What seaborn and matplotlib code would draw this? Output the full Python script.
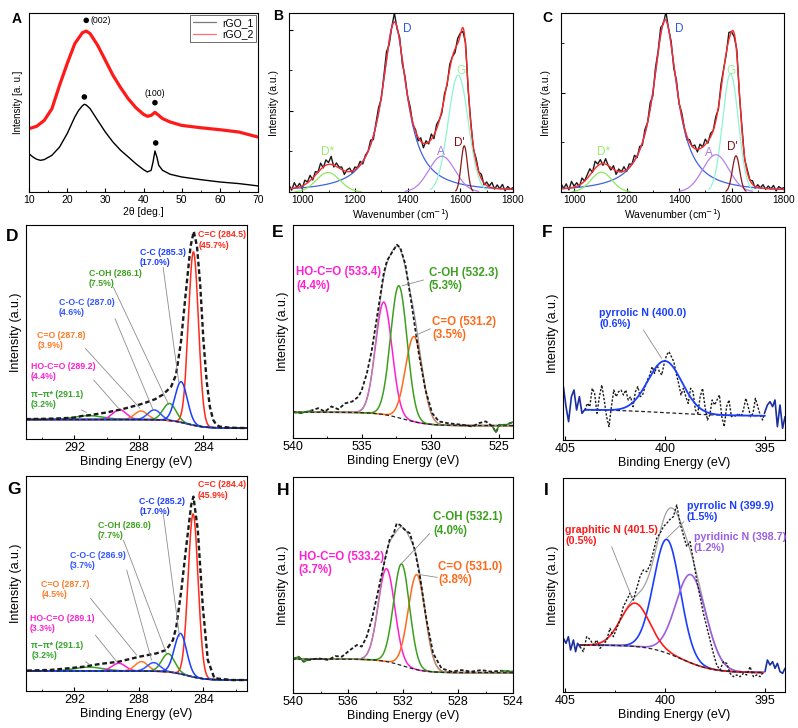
import numpy as np
import matplotlib
matplotlib.use("Agg")
import matplotlib.pyplot as plt
from matplotlib.ticker import MultipleLocator, NullLocator
from matplotlib.lines import Line2D
import seaborn as sns

# ===================== DATA =====================
# ---- A : XRD ----
xrd_angle_1 = [10, 11, 12, 13, 14, 16, 18, 20, 22, 23, 24, 24.5, 25, 26, 28, 30, 32, 34, 36, 38,
               40, 41, 42, 42.5, 43, 43.5, 44, 45, 47, 50, 55, 60, 65, 70]
xrd_rgo1 = [0.214, 0.196, 0.183, 0.177, 0.181, 0.205, 0.251, 0.326, 0.419, 0.456, 0.482, 0.490,
            0.486, 0.466, 0.400, 0.335, 0.279, 0.233, 0.196, 0.158, 0.125, 0.112, 0.121, 0.168,
            0.229, 0.196, 0.149, 0.121, 0.099, 0.084, 0.069, 0.056, 0.047, 0.034]
xrd_angle_2 = [10, 12, 14, 16, 18, 20, 22, 24, 25, 26, 28, 30, 32, 34, 36, 38, 40, 41, 42, 43,
               44, 45, 47, 50, 55, 60, 65, 70]
xrd_rgo2 = [0.354, 0.367, 0.400, 0.465, 0.596, 0.717, 0.829, 0.890, 0.899, 0.885, 0.819, 0.736,
            0.652, 0.583, 0.521, 0.471, 0.434, 0.423, 0.428, 0.445, 0.428, 0.410, 0.391, 0.372,
            0.359, 0.348, 0.335, 0.307]
xrd_dot_x = [25.0, 24.5, 43.0, 43.2]
xrd_dot_y = [0.959, 0.531, 0.499, 0.274]
xrd_hkl = ["(002)", "(100)"]
xrd_series = ["rGO_1", "rGO_2"]

# ---- B, C : Raman ----
raman_names = ["D", "G", "A", "D'", "D*"]
raman_shape = ["lorentz", "gauss", "gauss", "gauss", "gauss"]
B_center = [1350, 1592, 1530, 1615, 1098]
B_height = [0.95, 0.653, 0.200, 0.258, 0.109]
B_width = [56, 38, 50, 12, 45]
B_label_x = [1399, 1601, 1525, 1596, 1098]
B_label_y = [0.913, 0.675, 0.226, 0.276, 0.226]
B_resid = [0.02, -0.01, 0.03, 0.0, 0.02, -0.015, 0.025, 0.005, 0.03, -0.01,
           0.02, 0.0, 0.035, -0.005, 0.03, 0.01, 0.045, -0.01, 0.02, 0.005,
           0.015, -0.02, 0.01, 0.02, -0.01, 0.015, 0.0, 0.02, -0.015, 0.01,
           0.0, 0.025, -0.02, 0.015, 0.03, -0.01, 0.02, 0.045, -0.02, 0.0,
           0.05, -0.01, 0.02, -0.025, 0.015, 0.0, 0.02, -0.015, 0.01, -0.02,
           0.02, -0.025, 0.015, -0.01, 0.03, -0.02, 0.025, 0.005, -0.015, 0.02,
           -0.01, 0.025, 0.0, -0.02, 0.03, 0.01, -0.02, 0.02, -0.01, 0.015,
           -0.015, 0.02, 0.0, 0.025, -0.01, 0.02, 0.005, 0.03, -0.005, 0.02,
           0.0, 0.025, -0.01, 0.015, 0.0, 0.01]
C_center = [1347, 1596, 1540, 1617, 1104]
C_height = [0.963, 0.66, 0.208, 0.202, 0.111]
C_width = [55, 30, 50, 14, 40]
C_label_x = [1400, 1598, 1512, 1604, 1112]
C_label_y = [0.913, 0.677, 0.217, 0.254, 0.221]
C_resid = [0.03, 0.0, 0.025, -0.01, 0.035, 0.005, 0.02, -0.01, 0.03, 0.0,
           0.02, 0.035, -0.005, 0.04, 0.01, 0.025, -0.01, 0.03, 0.0, -0.015,
           0.02, -0.02, 0.015, 0.0, 0.025, -0.01, 0.02, 0.0, 0.03, -0.01,
           0.02, -0.015, 0.025, 0.0, 0.035, -0.02, 0.03, 0.01, 0.04, -0.01,
           0.045, 0.0, 0.02, -0.02, 0.025, -0.01, 0.02, 0.0, -0.02, 0.015,
           0.0, 0.02, -0.015, 0.025, 0.0, 0.03, -0.01, 0.02, 0.0, 0.025,
           -0.01, 0.03, 0.005, -0.01, 0.04, 0.0, -0.02, 0.025, -0.01, 0.02,
           -0.01, 0.015, 0.0, 0.02, -0.01, 0.015, 0.0, 0.02, -0.005, 0.015,
           0.0, 0.02, -0.01, 0.015, 0.005, 0.01]

# ---- D, G : C1s ----
C1s_colors = ["#ff2a1a", "#1a3dff", "#3ca01e", "#2f55ff", "#ff7a26", "#ff1fd2", "#33a32a"]
D_labels = ["C=C (284.5)", "C-C (285.3)", "C-OH (286.1)", "C-O-C (287.0)", "C=O (287.8)",
            "HO-C=O (289.2)", "π−π* (291.1)"]
D_pct = ["45.7%", "17.0%", "7.5%", "4.6%", "3.9%", "4.4%", "3.2%"]
D_center = [284.62, 285.38, 286.1, 287.05, 287.87, 289.2, 291.1]
D_height = [0.81, 0.19, 0.08, 0.046, 0.04, 0.046, 0.018]
D_sigma = [0.31, 0.38, 0.40, 0.40, 0.40, 0.42, 0.9]
D_bg = [0.051, 0.091, 285.0, 0.55]
D_env_be = [295.0, 294.0, 293.0, 292.0, 291.5, 291.0, 290.5, 290.0, 289.5, 289.0, 288.5, 288.0,
            287.5, 287.0, 286.5, 286.0, 285.7, 285.4, 285.1, 284.8, 284.6, 284.4, 284.2, 284.0,
            283.8, 283.6, 283.4, 283.2, 283.0, 282.5, 282.0, 281.3]
D_env = [0.093, 0.094, 0.096, 0.100, 0.108, 0.112, 0.118, 0.124, 0.132, 0.140, 0.150, 0.160,
         0.172, 0.186, 0.208, 0.245, 0.300, 0.450, 0.680, 0.900, 0.970, 0.900, 0.720, 0.460,
         0.270, 0.150, 0.090, 0.066, 0.058, 0.054, 0.052, 0.051]
D_text_x = [284.31, 287.94, 291.12, 292.96, 294.3, 294.7, 294.7]
D_text_y = [0.93, 0.848, 0.748, 0.614, 0.46, 0.316, 0.186]
D_leader = [(286.5, 0.802, 285.52, 0.26), (289.58, 0.709, 286.15, 0.16),
            (289.48, 0.562, 287.12, 0.136), (291.32, 0.423, 287.94, 0.144),
            (290.81, 0.276, 289.27, 0.144), (291.57, 0.136, 291.26, 0.124)]

G_labels = ["C=C (284.4)", "C-C (285.2)", "C-OH (286.0)", "C-O-C (286.9)", "C=O (287.7)",
            "HO-C=O (289.1)", "π−π* (291.1)"]
G_pct = ["45.9%", "17.0%", "7.7%", "3.7%", "4.5%", "3.3%", "3.2%"]
G_center = [284.64, 285.42, 286.18, 287.08, 287.84, 289.25, 291.1]
G_height = [0.758, 0.188, 0.085, 0.04, 0.044, 0.036, 0.018]
G_sigma = [0.31, 0.38, 0.40, 0.40, 0.40, 0.42, 0.9]
G_bg = [0.051, 0.093, 285.0, 0.55]
G_env_be = [294.93, 293.48, 292.45, 291.43, 290.4, 289.27, 287.94, 286.91, 286.3, 285.89, 285.68,
            285.37, 285.07, 284.76, 284.62, 284.35, 284.04, 283.73, 283.32, 282.2, 281.33]
G_env = [0.095, 0.098, 0.105, 0.113, 0.126, 0.136, 0.160, 0.175, 0.191, 0.237, 0.300, 0.470,
         0.670, 0.865, 0.904, 0.749, 0.392, 0.144, 0.059, 0.051, 0.051]
G_text_x = [284.35, 287.98, 290.56, 292.29, 294.05, 294.75, 294.67]
G_text_y = [0.935, 0.857, 0.746, 0.606, 0.474, 0.315, 0.188]
G_leader = [(286.5, 0.83, 285.48, 0.253), (288.96, 0.702, 286.3, 0.175),
            (288.76, 0.563, 287.22, 0.144), (291.0, 0.431, 288.14, 0.167),
            (290.7, 0.26, 289.37, 0.136), (291.3, 0.136, 291.1, 0.125)]

# ---- E, H : O1s ----
O1s_colors = ["#ff1fd2", "#3ca01e", "#ff6a1a"]
E_labels = ["HO-C=O (533.4)", "C-OH (532.3)", "C=O (531.2)"]
E_pct = ["4.4%", "5.3%", "3.5%"]
E_center = [533.4, 532.3, 531.2]
E_height = [0.528, 0.62, 0.40]
E_sigma = [0.6, 0.6, 0.62]
E_bg = [0.058, 0.121, 532.0, 0.9]
E_env_be = [540.0, 539.4, 538.66, 538.17, 537.68, 537.2, 536.7, 536.2, 535.7, 535.24, 535.0,
            534.63, 534.27, 533.78, 533.41, 533.17, 532.8, 532.44, 532.2, 531.83, 531.34, 530.85,
            530.37, 529.88, 529.39, 528.78, 528.41, 527.68, 526.95, 526.46, 525.98, 525.49,
            525.24, 525.0, 524.5, 523.9]
E_env = [0.121, 0.117, 0.129, 0.140, 0.124, 0.148, 0.135, 0.163, 0.171, 0.194, 0.225, 0.303,
         0.412, 0.614, 0.770, 0.832, 0.871, 0.907, 0.894, 0.816, 0.614, 0.397, 0.226, 0.117,
         0.078, 0.070, 0.067, 0.062, 0.054, 0.070, 0.078, 0.054, 0.026, 0.062, 0.062, 0.078]
E_text_x = [539.76, 530.12, 529.88]
E_text_y = [0.746, 0.743, 0.513]
E_leader = [(530.49, 0.742, 532.07, 0.715), (530.0, 0.513, 531.1, 0.482)]

H_labels = ["HO-C=O (533.2)", "C-OH (532.1)", "C=O (531.0)"]
H_pct = ["3.7%", "4.0%", "3.8%"]
H_center = [533.2, 532.1, 531.0]
H_height = [0.43, 0.47, 0.44]
H_sigma = [0.6, 0.58, 0.62]
H_bg = [0.094, 0.157, 532.0, 0.8]
H_env_be = [540.0, 539.6, 539.23, 538.86, 538.14, 537.42, 536.93, 536.45, 535.85, 535.36, 535.0,
            534.64, 534.28, 533.79, 533.43, 532.95, 532.71, 532.46, 532.22, 531.86, 531.5, 531.14,
            530.77, 530.29, 529.81, 529.2, 528.48, 527.75, 527.03, 526.3, 525.58, 524.85, 524.0]
H_env = [0.157, 0.168, 0.145, 0.153, 0.160, 0.153, 0.171, 0.168, 0.199, 0.222, 0.215, 0.261,
         0.338, 0.477, 0.585, 0.716, 0.731, 0.785, 0.778, 0.755, 0.739, 0.662, 0.539, 0.338,
         0.184, 0.114, 0.099, 0.106, 0.099, 0.106, 0.099, 0.103, 0.099]
H_text_x = [539.59, 529.8, 529.44]
H_text_y = [0.60, 0.782, 0.552]
H_leader = [(530.05, 0.739, 532.1, 0.6), (529.5, 0.535, 530.85, 0.549)]

# ---- F, I : N1s (counts, a.u.) ----
F_labels = ["pyrrolic N (400.0)"]
F_pct = ["0.6%"]
F_center = [400.0]
F_height = [155]
F_sigma = [0.85]
F_bg = [72, 92, 400.0, 1.5]
F_counts = [90, 110, 100, 155, 140, 80, 130, 165, 120, 70, 40, 100, 150, 130, 145, 150, 135, 150,
            120, 130, 100, 145, 160, 130, 135, 160, 180, 195, 220, 200, 225, 205, 195, 230, 255,
            265, 250, 235, 200, 170, 135, 155, 130, 110, 155, 145, 90, 80, 130, 155, 100, 60, 75,
            120, 105, 120, 135, 70, 40, 100, 120, 70, 75, 70, 80, 70, 90, 125, 100, 70, 80, 125,
            100, 75, 60, 85]
F_edge_l_be = [405.08, 404.95, 404.82, 404.68, 404.55, 404.42, 404.28, 404.15, 404.0]
F_edge_l = [160, 100, 55, 130, 150, 90, 130, 80, 92]
F_edge_r_be = [395.0, 394.88, 394.75, 394.62, 394.5, 394.38, 394.25, 394.12, 394.0]
F_edge_r = [85, 105, 115, 100, 120, 40, 105, 35, 70]
F_text_x = [403.28]
F_text_y = [365]
F_leader = [(401.08, 330, 400.17, 245)]

N1s_colors = ["#ff1a1a", "#1a3dff", "#9b5fe0"]
I_labels = ["graphitic N (401.5)", "pyrrolic N (399.9)", "pyridinic N (398.7)"]
I_pct = ["0.5%", "1.5%", "1.2%"]
I_center = [401.5, 399.9, 398.7]
I_height = [130, 341, 265]
I_sigma = [0.72, 0.66, 0.75]
I_bg = [58, 141, 399.2, 0.8]
I_counts = [136, 121, 166, 158, 141, 156, 131, 141, 156, 191, 166, 191, 216, 256, 276, 296, 276,
            311, 346, 366, 361, 381, 421, 461, 476, 496, 506, 518, 526, 561, 506, 471, 436, 451,
            396, 336, 286, 236, 196, 156, 116, 81, 66, 91, 86, 56, 46, 51, 46, 56, 51, 76, 46, 51,
            46, 61]
I_edge_l_be = [405.08, 404.95, 404.83, 404.72, 404.58, 404.47, 404.37, 404.25]
I_edge_l = [161, 146, 166, 126, 156, 121, 146, 136]
I_edge_r_be = [395.0, 394.88, 394.75, 394.62, 394.5, 394.38, 394.25, 394.12, 394.0]
I_edge_r = [61, 96, 81, 91, 71, 86, 61, 56, 71]
I_text_x = [405.0, 398.92, 398.55]
I_text_y = [470, 541, 449]
I_leader = [(402.67, 436, 401.67, 286), (399.05, 511, 399.92, 461)]

# ===================== STYLE =====================
sns.set_theme(style="ticks")
plt.rcParams["font.family"] = ["Liberation Sans", "DejaVu Sans"]
plt.rcParams["axes.edgecolor"] = "black"
plt.rcParams["axes.linewidth"] = 0.8
plt.rcParams["xtick.color"] = "black"
plt.rcParams["ytick.color"] = "black"
plt.rcParams["axes.labelcolor"] = "black"
plt.rcParams["text.color"] = "black"

W, H = 798, 728
fig = plt.figure(figsize=(W / 100, H / 100), dpi=100)
fig.patch.set_facecolor("white")


def add_ax(l, t, r, b):
    return fig.add_axes([l / W, 1 - b / H, (r - l) / W, (b - t) / H])


def line(ax, x, y, **kw):
    sns.lineplot(x=np.asarray(x, float), y=np.asarray(y, float), ax=ax, sort=False,
                 estimator=None, errorbar=None, legend=False, **kw)


def style(ax, xlim, ylim, xmaj, xmin, tick_fs, label_fs, xlabel, ylabel,
          ymaj=None, ymin=None, xlabelpad=1.5, ylabelpad=3):
    ax.set_xlim(*xlim)
    ax.set_ylim(*ylim)
    ax.xaxis.set_major_locator(MultipleLocator(xmaj))
    ax.xaxis.set_minor_locator(MultipleLocator(xmin))
    if ymaj is None:
        ax.yaxis.set_major_locator(NullLocator())
        ax.yaxis.set_minor_locator(NullLocator())
    else:
        ax.yaxis.set_major_locator(MultipleLocator(ymaj))
        ax.yaxis.set_minor_locator(MultipleLocator(ymin))
        ax.set_yticklabels([])
    ax.tick_params(which="both", direction="in", top=False, right=False, color="black")
    ax.tick_params(which="major", length=3, width=0.8, labelsize=tick_fs, pad=2.5)
    ax.tick_params(which="minor", length=1.8, width=0.6)
    ax.set_xlabel(xlabel, fontsize=label_fs, labelpad=xlabelpad)
    ax.set_ylabel(ylabel, fontsize=label_fs, labelpad=ylabelpad)
    for s in ax.spines.values():
        s.set_visible(True)
        s.set_linewidth(0.8)
        s.set_color("black")
    ax.set_facecolor("white")


def shirley(x, p):
    low, high, c, w = p
    return low + (high - low) / (1.0 + np.exp(-(x - c) / w))


def gauss(x, h, c, s):
    return h * np.exp(-(x - c) ** 2 / (2 * s ** 2))


def leader(ax, seg):
    x0, y0, x1, y1 = seg
    ax.annotate("", xy=(x1, y1), xytext=(x0, y0),
                arrowprops=dict(arrowstyle="-", color="#8c8c8c", lw=0.6,
                                shrinkA=0, shrinkB=0))


# ===================== A: XRD =====================
axA = add_ax(29, 13, 258, 192)
line(axA, xrd_angle_2, xrd_rgo2, color="#ff1a1a", linewidth=2.3)
line(axA, xrd_angle_1, xrd_rgo1, color="black", linewidth=1.0)
sns.scatterplot(x=xrd_dot_x, y=xrd_dot_y, ax=axA, color="black", s=16, edgecolor="none",
                legend=False, zorder=5)
axA.text(26.2, 0.959, xrd_hkl[0], fontsize=6.3, va="center", ha="left")
axA.text(43.0, 0.525, xrd_hkl[1], fontsize=6.3, va="bottom", ha="center")
style(axA, (10, 70), (0, 1), 10, 5, 7.5, 7.5, "2θ [deg.]", "Intensity [a. u.]",
      xlabelpad=1.0, ylabelpad=4)
axA.yaxis.label.set_size(7)
handles = [Line2D([0], [0], color="#7a7a7a", lw=0.9), Line2D([0], [0], color="#ff7070", lw=0.9)]
leg = axA.legend(handles, xrd_series, loc="upper right", fontsize=7.5, frameon=True,
                 fancybox=False, edgecolor="#555555", framealpha=1, borderpad=0.3,
                 labelspacing=0.15, handletextpad=0.6, handlelength=2.2, borderaxespad=0.15)
leg.get_frame().set_linewidth(0.6)


# ===================== B, C: Raman =====================
raman_line_colors = ["#3f63e0", "#8ef5d0", "#b582ea", "#8b1a1a", "#8fe860"]
raman_text_colors = ["#2f55e6", "#9cf29c", "#a777e6", "#7d0f0f", "#98ec70"]


def raman_comp(x, shape, c, h, w):
    if shape == "lorentz":
        return h / (1.0 + ((x - c) / w) ** 2)
    return h * np.exp(-(x - c) ** 2 / (2 * w ** 2))


def raman_panel(ax, centers, heights, widths, resid, lab_x, lab_y, ymaj):
    xf = np.linspace(950, 1800, 700)
    grid = np.arange(950, 1801, 10)
    fit_f = sum(raman_comp(xf, s, c, h, w)
                for s, c, h, w in zip(raman_shape, centers, heights, widths))
    fit_g = sum(raman_comp(grid, s, c, h, w)
                for s, c, h, w in zip(raman_shape, centers, heights, widths))
    line(ax, grid, fit_g + np.asarray(resid), color="#1a1a1a", linewidth=1.0)
    for s, c, h, w, col in zip(raman_shape, centers, heights, widths, raman_line_colors):
        if s == "lorentz":
            xx = xf
        else:
            xx = xf[(xf > c - 2.8 * w) & (xf < c + 2.8 * w)]
        line(ax, xx, raman_comp(xx, s, c, h, w), color=col, linewidth=0.9)
    line(ax, xf, fit_f, color="#ff2b2b", linewidth=1.0)
    for name, tx, ty, tc in zip(raman_names, lab_x, lab_y, raman_text_colors):
        ax.text(tx, ty, name, color=tc, fontsize=8.5, ha="center", va="center")
    style(ax, (950, 1800), (0, 1), 200, 100, 7.3, 7.5, r"Wavenumber (cm$^{-1}$)",
          "Intensity (a.u.)", ymaj=ymaj, ymin=ymaj / 2, xlabelpad=1.0, ylabelpad=4)


axB = add_ax(289, 13, 513, 192)
raman_panel(axB, B_center, B_height, B_width, B_resid, B_label_x, B_label_y, 0.453)
axC = add_ax(561, 13, 784, 192)
raman_panel(axC, C_center, C_height, C_width, C_resid, C_label_x, C_label_y, 0.555)


# ===================== XPS helpers =====================
def xps_components(ax, xr, bgp, centers, heights, sigmas, colors, order, lw=1.1):
    xf = np.linspace(xr[0], xr[1], 800)
    base = shirley(xf, bgp)
    for i in order:
        line(ax, xf, base + gauss(xf, heights[i], centers[i], sigmas[i]),
             color=colors[i], linewidth=lw)
    return xf, base


def xps_labels(ax, labels, pcts, tx, ty, colors, fs, leaders):
    for seg in leaders:
        leader(ax, seg)
    for lab, pct, x, y, c in zip(labels, pcts, tx, ty, colors):
        ax.text(x, y, f"{lab}\n({pct})", color=c, fontsize=fs, fontweight="bold",
                ha="left", va="center", linespacing=1.15)


dash_env = (0, (2.0, 1.2))
dash_bg = (0, (3.0, 2.0))

# ---- D ----
axD = add_ax(26, 225, 247, 439)
xfD, bD = xps_components(axD, (281.3, 295.0), D_bg, D_center, D_height, D_sigma,
                         C1s_colors, [0, 6, 5, 4, 2, 3, 1])
line(axD, xfD, bD, color="#222222", linewidth=0.9, linestyle=dash_bg)
line(axD, D_env_be, D_env, color="#1a1a1a", linewidth=1.7, linestyle=dash_env)
xps_labels(axD, D_labels, D_pct, D_text_x, D_text_y, C1s_colors, 6.3, D_leader)
style(axD, (295.0, 281.3), (0, 1), 4, 2, 9, 9, "Binding Energy (eV)", "Intensity (a.u.)",
      xlabelpad=1.0, ylabelpad=3)

# ---- G ----
axG = add_ax(26, 476, 247, 691)
xfG, bG = xps_components(axG, (281.3, 295.0), G_bg, G_center, G_height, G_sigma,
                         C1s_colors, [0, 6, 5, 4, 2, 3, 1])
line(axG, xfG, bG, color="#222222", linewidth=0.9, linestyle=dash_bg)
line(axG, G_env_be, G_env, color="#1a1a1a", linewidth=1.7, linestyle=dash_env)
xps_labels(axG, G_labels, G_pct, G_text_x, G_text_y, C1s_colors, 6.3, G_leader)
style(axG, (295.0, 281.3), (0, 1), 4, 2, 9, 9, "Binding Energy (eV)", "Intensity (a.u.)",
      xlabelpad=1.0, ylabelpad=3)


# ---- E, H ----
def o1s_panel(ax, env_be, env, bgp, centers, heights, sigmas, labels, pcts, tx, ty, leaders,
              xmaj, xmin):
    xf, base = xps_components(ax, (524.0, 540.0), bgp, centers, heights, sigmas,
                              O1s_colors, [0, 2, 1])
    total = base + sum(gauss(xf, h, c, s) for h, c, s in zip(heights, centers, sigmas))
    line(ax, xf, total, color="#9a9a9a", linewidth=0.8)
    line(ax, xf, base, color="#222222", linewidth=0.9, linestyle=dash_bg)
    be = np.asarray(env_be)
    ev = np.asarray(env)
    line(ax, be, ev, color="#1a1a1a", linewidth=1.3, linestyle=dash_env)
    for m in [be >= 538.6, be <= 525.5]:
        line(ax, be[m], ev[m], color="#2e7d1e", linewidth=1.0)
    xps_labels(ax, labels, pcts, tx, ty, O1s_colors, 8.3, leaders)
    style(ax, (540, 524), (0, 1), xmaj, xmin, 9, 9, "Binding Energy (eV)", "Intensity (a.u.)",
          xlabelpad=1.0, ylabelpad=3)


axE = add_ax(293, 225, 513, 438)
o1s_panel(axE, E_env_be, E_env, E_bg, E_center, E_height, E_sigma, E_labels, E_pct,
          E_text_x, E_text_y, E_leader, 5, 2.5)
axH = add_ax(293, 477, 513, 693)
o1s_panel(axH, H_env_be, H_env, H_bg, H_center, H_height, H_sigma, H_labels, H_pct,
          H_text_x, H_text_y, H_leader, 4, 2)

# ---- F ----
axF = add_ax(563, 227, 785, 440)
xfF = np.linspace(404.0, 395.0, 600)
bF = shirley(xfF, F_bg)
line(axF, xfF, bF, color="#222222", linewidth=0.9, linestyle=dash_bg)
line(axF, np.linspace(404.0, 395.0, len(F_counts)), F_counts, color="#1a1a1a",
     linewidth=1.0, linestyle=(0, (1.6, 1.2)))
line(axF, xfF, bF + gauss(xfF, F_height[0], F_center[0], F_sigma[0]), color="#1a3dff",
     linewidth=1.3)
line(axF, F_edge_l_be, F_edge_l, color="#1a2fa0", linewidth=1.2)
line(axF, F_edge_r_be, F_edge_r, color="#1a2fa0", linewidth=1.2)
xps_labels(axF, F_labels, F_pct, F_text_x, F_text_y, ["#1a3dff"], 7.7, F_leader)
style(axF, (405.1, 394.0), (0, 639), 5, 2.5, 9, 9, "Binding Energy (eV)", "Intensity (a.u.)",
      xlabelpad=1.0, ylabelpad=3)

# ---- I ----
axI = add_ax(563, 478, 785, 692)
xfI = np.linspace(404.25, 395.08, 700)
bI = shirley(xfI, I_bg)
totI = bI + sum(gauss(xfI, h, c, s) for h, c, s in zip(I_height, I_center, I_sigma))
line(axI, xfI, totI, color="#a0a0a0", linewidth=0.9)
for i in [1, 2, 0]:
    line(axI, xfI, bI + gauss(xfI, I_height[i], I_center[i], I_sigma[i]),
         color=N1s_colors[i], linewidth=1.2)
line(axI, xfI, bI, color="#222222", linewidth=0.9, linestyle=dash_bg)
line(axI, np.linspace(404.25, 395.08, len(I_counts)), I_counts, color="#1a1a1a",
     linewidth=1.0, linestyle=(0, (1.6, 1.2)))
line(axI, I_edge_l_be, I_edge_l, color="#1a2fa0", linewidth=1.2)
line(axI, I_edge_r_be, I_edge_r, color="#1a2fa0", linewidth=1.2)
xps_labels(axI, I_labels, I_pct, I_text_x, I_text_y, N1s_colors, 7.7, I_leader)
style(axI, (405.1, 394.0), (0, 642), 5, 2.5, 9, 9, "Binding Energy (eV)", "Intensity (a.u.)",
      xlabelpad=1.0, ylabelpad=3)

# ===================== panel letters =====================
letters = [("A", 12, 12, 10), ("B", 273, 9, 10), ("C", 542, 11, 10),
           ("D", 6, 229, 12.5), ("E", 272, 225, 12.5), ("F", 542, 225, 12.5),
           ("G", 7, 482, 12.5), ("H", 277, 483, 12.5), ("I", 544, 483, 12.5)]
for s, x, y, fs in letters:
    fig.text(x / W, 1 - y / H, s, fontsize=fs, fontweight="bold", ha="left", va="top")

fig.savefig("out.png", dpi=100, facecolor="white")
